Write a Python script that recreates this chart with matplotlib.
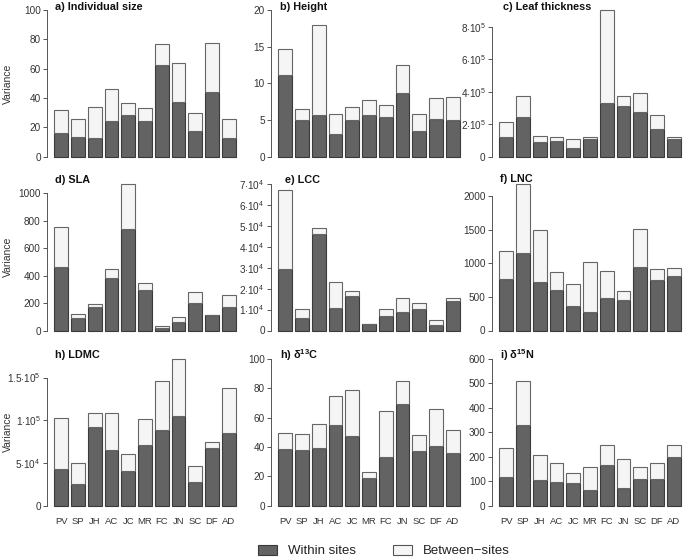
import matplotlib
matplotlib.use("Agg")
import matplotlib.pyplot as plt
from matplotlib.patches import Patch

plt.rcParams['font.family'] = ['Liberation Sans', 'DejaVu Sans']
plt.rcParams['mathtext.fontset'] = 'custom'
plt.rcParams['mathtext.rm'] = 'Liberation Sans'
plt.rcParams['mathtext.it'] = 'Liberation Sans:italic'
plt.rcParams['mathtext.bf'] = 'Liberation Sans:bold'

species = ["PV", "SP", "JH", "AC", "JC", "MR", "FC", "JN", "SC", "DF", "AD"]

size_within = [16.4, 13.6, 12.7, 24.5, 28.2, 24.3, 62.3, 37.3, 17.5, 44.1, 13.0]
size_between = [15.4, 11.9, 21.3, 21.5, 8.6, 8.7, 14.5, 26.7, 12.5, 33.6, 13.0]

height_within = [11.2, 5.0, 5.65, 3.05, 4.96, 5.65, 5.4, 8.65, 3.45, 5.15, 5.0]
height_between = [3.5, 1.55, 12.35, 2.75, 1.84, 2.05, 1.7, 3.85, 2.35, 2.9, 3.1]

thick_within = [1.2e5, 2.44e5, 0.89e5, 0.99e5, 0.54e5, 1.12e5, 3.33e5, 3.15e5, 2.76e5, 1.70e5, 1.08e5]
thick_between = [0.95e5, 1.29e5, 0.39e5, 0.25e5, 0.54e5, 0.12e5, 5.71e5, 0.56e5, 1.18e5, 0.87e5, 0.14e5]

sla_within = [463, 88, 173, 380, 739, 293, 17, 59, 198, 110, 171]
sla_between = [288, 34, 17, 66, 329, 56, 17, 43, 82, 5, 90]

lcc_within = [2.96e4, 0.60e4, 4.61e4, 1.07e4, 1.64e4, 0.30e4, 0.68e4, 0.88e4, 1.02e4, 0.28e4, 1.43e4]
lcc_between = [3.77e4, 0.45e4, 0.27e4, 1.26e4, 0.25e4, 0.01e4, 0.37e4, 0.65e4, 0.29e4, 0.24e4, 0.14e4]

lnc_within = [771, 1154, 726, 607, 368, 269, 478, 458, 940, 746, 816]
lnc_between = [408, 1025, 776, 264, 329, 756, 403, 124, 577, 164, 119]

ldmc_within = [0.430e5, 0.249e5, 0.916e5, 0.647e5, 0.410e5, 0.710e5, 0.888e5, 1.050e5, 0.272e5, 0.675e5, 0.852e5]
ldmc_between = [0.592e5, 0.252e5, 0.173e5, 0.442e5, 0.190e5, 0.300e5, 0.568e5, 0.667e5, 0.190e5, 0.071e5, 0.521e5]

c13_within = [38.6, 38.0, 39.3, 55.2, 47.3, 18.9, 33.4, 69.1, 37.3, 40.7, 35.5]
c13_between = [11.2, 10.6, 16.6, 19.3, 31.3, 3.8, 30.9, 15.9, 10.9, 25.4, 15.9]

n15_within = [118, 328, 105, 98, 91, 64, 165, 72, 107, 107, 199]
n15_between = [119, 182, 103, 75, 41, 94, 81, 117, 49, 69, 50]

titles = ["a) Individual size", "b) Height", "c) Leaf thickness",
          "d) SLA", "e) LCC", "f) LNC",
          "h) LDMC", "h) δ$^{\\mathbf{13}}$C", "i) δ$^{\\mathbf{15}}$N"]

def sci(m, e):
    return r'$%s{\cdot}10^{%d}$' % (m, e)

ticks = [
    ([0, 20, 40, 60, 80, 100], ['0', '20', '40', '60', '80', '100']),
    ([0, 5, 10, 15, 20], ['0', '5', '10', '15', '20']),
    ([0, 2e5, 4e5, 6e5, 8e5], ['0', sci(2, 5), sci(4, 5), sci(6, 5), sci(8, 5)]),
    ([0, 200, 400, 600, 800, 1000], ['0', '200', '400', '600', '800', '1000']),
    ([0, 1e4, 2e4, 3e4, 4e4, 5e4, 6e4, 7e4], ['0'] + [sci(k, 4) for k in range(1, 8)]),
    ([0, 500, 1000, 1500, 2000], ['0', '500', '1000', '1500', '2000']),
    ([0, 5e4, 1e5, 1.5e5], ['0', sci(5, 4), sci(1, 5), sci('1.5', 5)]),
    ([0, 20, 40, 60, 80, 100], ['0', '20', '40', '60', '80', '100']),
    ([0, 100, 200, 300, 400, 500, 600], ['0', '100', '200', '300', '400', '500', '600']),
]
ytops = [100, 20, 9.04e5, 1068, 7e4, 2179, 1.717e5, 100, 600]

within_all = [size_within, height_within, thick_within, sla_within, lcc_within,
              lnc_within, ldmc_within, c13_within, n15_within]
between_all = [size_between, height_between, thick_between, sla_between, lcc_between,
               lnc_between, ldmc_between, c13_between, n15_between]

W, H = 683, 559
fig = plt.figure(figsize=(W / 100, H / 100), dpi=100)

col_left = [47, 271, 492]
col_w = 196
row_zero = [156.7, 330.5, 505.5]
row_top = [10, 184, 359]
title_pos = [(55, 7), (280, 7), (503, 7),
             (55, 180), (285, 180), (500, 179),
             (55, 355), (280, 355), (500, 355)]

dark = '#636363'
light = '#f5f5f5'
edge = '#3a3a3a'
axcol = '#555555'

xs = [0.7 + 1.2 * i for i in range(len(species))]

for k in range(9):
    r, c = divmod(k, 3)
    z, t = row_zero[r], row_top[r]
    span = z - t
    bot_px = z + 0.04 * span
    top_px = t - 0.04 * span
    ax = fig.add_axes([col_left[c] / W, 1 - bot_px / H, col_w / W, (bot_px - top_px) / H])
    T = ytops[k]
    ax.set_ylim(-0.04 * T, 1.04 * T)
    ax.set_xlim(-0.32, 13.72)
    ax.bar(xs, within_all[k], width=1.0, color=dark, edgecolor=edge, linewidth=0.8)
    ax.bar(xs, between_all[k], width=1.0, bottom=within_all[k], color=light,
           edgecolor='#666666', linewidth=0.8)
    for s in ['top', 'right', 'bottom']:
        ax.spines[s].set_visible(False)
    tv, tl = ticks[k]
    ax.spines['left'].set_bounds(tv[0], tv[-1])
    ax.spines['left'].set_color(axcol)
    ax.spines['left'].set_linewidth(0.7)
    ax.set_yticks(tv)
    ax.set_yticklabels(tl)
    ax.tick_params(axis='y', length=3, width=0.7, color=axcol, labelsize=7.2,
                   labelcolor='#333333', pad=1.5)
    if r == 2:
        ax.set_xticks(xs)
        ax.set_xticklabels(species)
        ax.tick_params(axis='x', length=0, labelsize=6.8, labelcolor='#333333', pad=4)
    else:
        ax.set_xticks([])
    if c == 0:
        fig.text(8 / W, 1 - (z - span / 2) / H, 'Variance', rotation=90,
                 ha='center', va='center', fontsize=7.5, color='#333333')
    tx, ty = title_pos[k]
    fig.text(tx / W, 1 - ty / H, titles[k], ha='left', va='center',
             fontsize=7.8, fontweight='bold', color='#111111')

handles = [Patch(facecolor=dark, edgecolor=edge, linewidth=0.8, label='Within sites'),
           Patch(facecolor=light, edgecolor='#555555', linewidth=0.8, label='Between\u2212sites')]
fig.legend(handles=handles, loc='center', bbox_to_anchor=(384 / W, 1 - 551 / H),
           ncol=2, frameon=False, fontsize=9.5, handlelength=1.4, handleheight=0.8,
           handletextpad=0.85, columnspacing=2.85, labelcolor='#222222')

fig.savefig('out.png', dpi=100)
